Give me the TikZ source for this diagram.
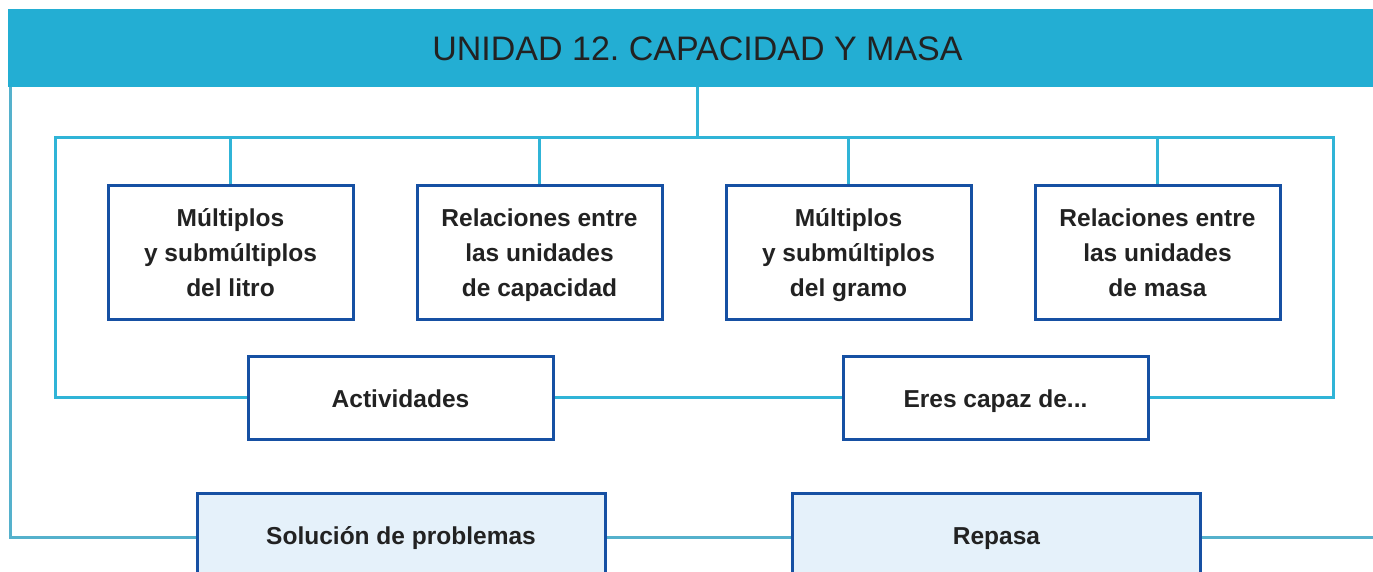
\documentclass[tikz,border=0pt]{standalone}
\usepackage{fontspec}
\setmainfont{Liberation Sans}
\usetikzlibrary{backgrounds}
\frenchspacing
\definecolor{hdrblue}{HTML}{23AED3}
\definecolor{connblue}{HTML}{30B4D7}
\definecolor{outerblue}{HTML}{55B1CC}
\definecolor{boxblue}{HTML}{1650A3}
\definecolor{boxfill}{HTML}{E5F1FA}
\definecolor{txt}{HTML}{222222}
\newcommand{\threelines}[3]{\raisebox{-2.5pt}[\height][\depth]{\begin{tabular}{@{}c@{}}#1\\#2\\#3\end{tabular}}}
\tikzset{
  conn/.style={draw=connblue, line width=3pt},
  outerline/.style={draw=outerblue, line width=3pt},
  boxtext/.style={text=txt, font=\fontsize{24.5}{35}\selectfont\bfseries, inner sep=0pt},
  topicbox/.style={boxtext, draw=boxblue, line width=3pt, fill=white, minimum width=245pt, minimum height=134pt},
  actbox/.style={boxtext, draw=boxblue, line width=3pt, fill=white, minimum width=305pt, minimum height=83pt,
    text height=20pt, text depth=0pt},
  bottombox/.style={boxtext, draw=boxblue, line width=3pt, fill=boxfill, minimum width=408pt, minimum height=88pt,
    text height=14.6pt, text depth=0pt},
  header/.style={fill=hdrblue, minimum width=1379pt, minimum height=78pt, inner sep=0pt,
    text=txt, font=\fontsize{34}{40}\selectfont, text height=25pt, text depth=0pt},
}
\begin{document}
\begin{tikzpicture}[x=1pt,y=-1pt]
\useasboundingbox (0,0) rectangle (1373,571);
\clip (0,0) rectangle (1373,571);

\node[header] (hdr) at (697.5,48) {UNIDAD 12. CAPACIDAD Y MASA};

\node[topicbox] (b1) at (230.5,252) {\threelines{Múltiplos}{y submúltiplos}{del litro}};
\node[topicbox] (b2) at (539.5,252) {\threelines{Relaciones entre}{las unidades}{de capacidad}};
\node[topicbox] (b3) at (848.5,252) {\threelines{Múltiplos}{y submúltiplos}{del gramo}};
\node[topicbox] (b4) at (1157.5,252) {\threelines{Relaciones entre}{las unidades}{de masa}};

\node[actbox] (act) at (400.5,397.5) {Actividades};
\node[actbox] (eres) at (995.5,397.5) {Eres capaz de...};

\node[bottombox] (sol) at (401,537) {Solución de problemas};
\node[bottombox] (rep) at (996.5,537) {Repasa};

\coordinate (hub) at (697,137);
\coordinate (lt) at (55,137);
\coordinate (rt) at (1333,137);
\coordinate (oltop) at (10,87);
\coordinate (olbot) at (10,537);
\coordinate (rend) at (1380,537);

\begin{scope}[on background layer]
\fill[white] (0,0) rectangle (1373,571);
\draw[conn] (hdr.south -| hub) -- (hub);
\draw[conn] (act.west) -| (lt) -- (rt) |- (eres.east);
\draw[conn] (act.east) -- (eres.west);
\draw[conn] (b1.north) -- (b1.north |- lt);
\draw[conn] (b2.north) -- (b2.north |- lt);
\draw[conn] (b3.north) -- (b3.north |- lt);
\draw[conn] (b4.north) -- (b4.north |- lt);
\draw[outerline] (oltop) -- (olbot) -- (sol.west);
\draw[outerline] (sol.east) -- (rep.west);
\draw[outerline] (rep.east) -- (rend);
\end{scope}
\end{tikzpicture}
\end{document}
